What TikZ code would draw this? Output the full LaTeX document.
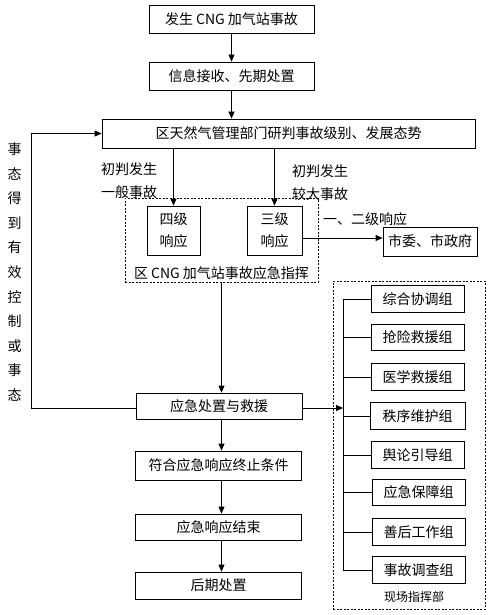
\documentclass[tikz,border=0pt]{standalone}
\usepackage{fontspec}
\newfontfamily\cjk{Noto Sans CJK SC}
\usetikzlibrary{arrows.meta}
\begin{document}
\begin{tikzpicture}[x=1pt,y=-1pt,
  txt/.style={font=\cjk\fontsize{14}{16}\selectfont, inner sep=0pt},
  box/.style={txt, draw, line width=0.8pt, align=center},
  grp/.style={box, minimum width=93pt, minimum height=26.5pt},
  main/.style={box, minimum width=166pt},
  dbox/.style={draw, line width=0.7pt, dash pattern=on 2pt off 1.5pt, inner sep=0pt},
  arr/.style={line width=0.8pt, -{Triangle[length=7pt,width=6pt]}},
  ln/.style={line width=0.8pt}]
\useasboundingbox (0,0) rectangle (495,615);
% main column
\node[main, minimum width=165pt, minimum height=28pt] (b1) at (231.5,19) {发生 CNG 加气站事故};
\node[main, minimum width=165pt, minimum height=28pt] (b2) at (231.5,76) {信息接收、先期处置};
\node[box, minimum width=373pt, minimum height=29pt] (b3) at (288.5,133.5) {区天然气管理部门研判事故级别、发展态势};
\node[box, minimum width=53pt, minimum height=49pt, font=\cjk\fontsize{14}{22}\selectfont] (sj) at (173.5,230.5) {四级\\响应};
\node[box, minimum width=55pt, minimum height=49pt, font=\cjk\fontsize{14}{22}\selectfont] (sanj) at (274.5,230.5) {三级\\响应};
\node[dbox, minimum width=193pt, minimum height=84pt] (cmd) at (221.5,240) {};
\node[txt] (cmdl) at (221.5,273) {区 CNG 加气站事故应急指挥};
\node[box, minimum width=94pt, minimum height=29pt] (sw) at (430,241.5) {市委、市政府};
\node[txt] (l1) at (365,219) {一、二级响应};
\node[txt, align=center, font=\cjk\fontsize{14}{23}\selectfont] (lab1) at (129,181) {初判发生\\一般事故};
\node[txt, align=center, font=\cjk\fontsize{14}{23}\selectfont] (lab2) at (320,183) {初判发生\\较大事故};
\node[main, minimum height=26pt] (ys) at (219,406) {应急处置与救援};
\node[main, minimum height=29pt] (fh) at (218.5,465.5) {符合应急响应终止条件};
\node[main, minimum height=26pt] (js) at (218.5,527) {应急响应结束};
\node[main, minimum height=27pt] (hq) at (218.5,585.5) {后期处置};
% vertical text
\node[txt, align=center, font=\cjk\fontsize{14}{24.6}\selectfont] (vt) at (14.5,272) {事\\态\\得\\到\\有\\效\\控\\制\\或\\事\\态};
% right column
\node[dbox, minimum width=152pt, minimum height=328pt] (xc) at (409,445) {};
\node[txt, font=\cjk\fontsize{12}{14}\selectfont] (xcl) at (414,597) {现场指挥部};
\node[grp] (g1) at (417.5,299) {综合协调组};
\node[grp] (g2) at (417.5,337.5) {抢险救援组};
\node[grp] (g3) at (417.5,377) {医学救援组};
\node[grp, minimum width=95pt] (g4) at (417.5,416) {秩序维护组};
\node[grp] (g5) at (417.5,455) {舆论引导组};
\node[grp] (g6) at (418.5,492.5) {应急保障组};
\node[grp] (g7) at (418.5,532) {善后工作组};
\node[grp] (g8) at (418.5,570) {事故调查组};
\coordinate (bt) at (343,299);
\coordinate (bb) at (343,570);
\coordinate (fb) at (31,408);
% connectors
\draw[arr] (b1) -- (b2);
\draw[arr] (b2) -- (b2 |- b3.north);
\draw[arr] (b3.south -| sj.north) -- (sj.north);
\draw[arr] (b3.south -| sanj.north) -- (sanj.north);
\draw[arr] ([yshift=-7.5pt]sanj.east) -- ([yshift=-7.5pt]sanj.east -| sw.west);
\draw[arr] (cmd.south) -- (ys.north -| cmd.south);
\draw[arr] (ys.south -| cmd.south) -- (fh.north -| cmd.south);
\draw[arr] (fh.south -| cmd.south) -- (js.north -| cmd.south);
\draw[arr] (js.south -| cmd.south) -- (hq.north -| cmd.south);
\draw[arr] ([yshift=-2pt]ys.west) -- (fb) |- (b3.west);
\draw[arr] ([yshift=-2pt]ys.east) -- ([yshift=-2pt]ys.east -| bt);
\draw[ln] (bt) -- (bb);
\foreach \g in {g1,g2,g3,g4,g5,g6,g7,g8} \draw[ln] (\g.west -| bt) -- (\g.west);
\end{tikzpicture}
\end{document}
